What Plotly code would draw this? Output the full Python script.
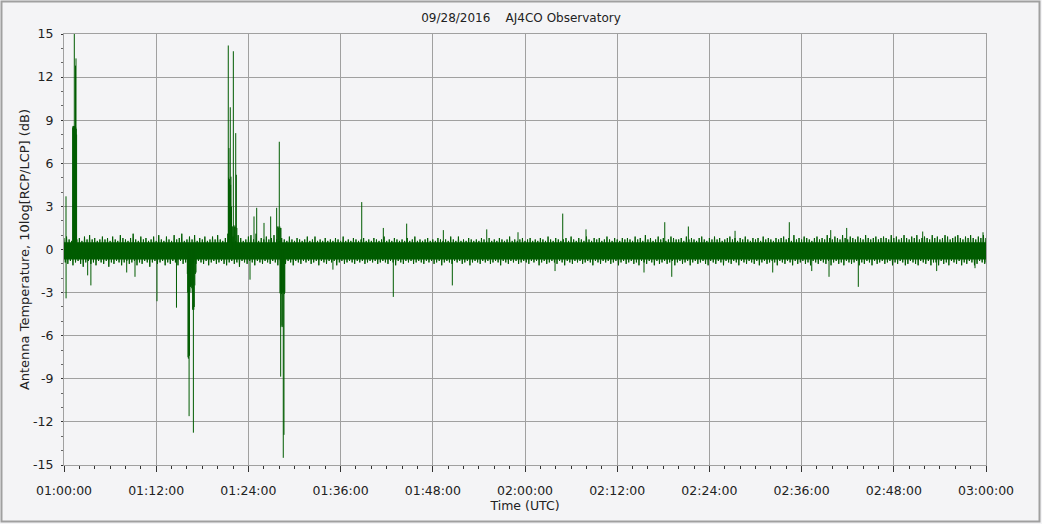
import pandas as pd
import plotly.graph_objects as go

# ---------------- data ----------------
start_time = "2016-09-28 01:00:00"
span_minutes = 120
sample_seconds = 20

# upper and lower edge of the noise band, one value per 20 s (dB)
noise_hi = [
    0.8,0.9,0.7,0.6,1.0,0.7,0.8,0.6,0.9,0.7,1.0,0.7,0.8,0.6,0.7,0.9,0.7,0.8,0.6,0.9,
    0.7,0.6,1.0,0.8,0.7,0.6,0.8,1.1,0.7,0.6,0.9,0.7,0.8,0.6,0.7,0.9,0.6,1.0,0.7,0.6,
    0.9,0.7,0.6,1.0,0.7,0.8,1.1,0.6,0.7,0.9,0.7,1.0,0.6,0.8,0.7,0.9,0.6,0.7,0.9,0.7,
    1.0,0.7,0.6,0.8,1.1,0.7,0.9,0.6,1.0,0.8,0.6,0.7,0.9,1.0,0.7,1.1,0.6,0.8,0.7,0.9,
    0.7,0.8,1.0,0.7,0.6,0.8,0.7,0.6,0.9,0.7,0.6,0.8,0.7,0.6,0.7,0.9,0.6,0.7,0.9,0.6,
    0.7,0.6,0.8,0.6,0.7,0.6,0.8,0.7,0.6,0.9,0.6,0.7,0.6,0.8,0.7,0.6,0.7,0.8,0.6,0.7,
    0.6,0.8,0.7,0.6,0.7,0.9,0.6,0.7,0.6,0.8,0.7,0.6,0.7,0.6,0.8,0.6,0.7,0.9,0.6,0.7,
    0.6,0.7,0.8,0.6,0.7,0.6,0.8,0.7,0.6,0.7,0.6,0.9,0.7,0.6,0.9,0.6,0.7,0.6,0.8,0.7,
    0.6,0.7,0.6,0.8,0.7,0.6,0.8,0.6,0.7,0.6,0.8,0.7,0.6,0.7,0.9,0.6,0.7,0.6,0.7,0.8,
    0.6,0.7,0.8,0.6,0.7,0.6,0.8,0.7,0.6,0.9,0.7,0.6,0.8,0.7,0.6,0.7,0.8,0.6,0.9,0.7,
    0.6,0.8,0.7,0.6,0.9,0.7,0.6,0.8,0.7,0.8,0.6,0.7,0.9,0.7,0.6,0.8,0.7,0.6,0.8,0.7,
    0.8,0.7,0.6,0.9,0.7,0.8,0.6,1.0,0.7,0.8,0.6,0.7,0.9,0.7,0.8,0.6,0.7,0.9,0.8,0.7,
    0.7,0.8,0.6,0.9,0.7,0.8,0.7,0.6,0.8,0.9,0.7,0.6,0.8,0.7,0.9,0.7,0.8,0.6,0.7,0.8,
    0.9,0.7,0.8,0.6,0.8,0.7,0.9,0.7,0.6,0.8,0.7,0.8,0.6,0.9,0.7,0.8,0.7,0.6,0.8,0.7,
    0.8,0.9,0.7,0.8,0.6,1.0,0.7,0.8,0.7,0.9,0.8,0.7,0.6,0.8,0.9,0.7,0.8,0.7,1.0,0.8,
    0.7,0.9,0.8,0.7,1.0,0.8,0.7,0.9,0.8,0.7,0.9,0.8,0.7,1.0,0.8,0.7,0.8,0.9,0.7,0.8,
    0.9,0.8,0.7,1.0,0.8,0.9,0.7,0.8,1.0,0.8,0.7,0.9,0.8,1.0,0.7,0.8,0.9,0.8,0.7,1.0,
    0.8,0.9,0.7,0.8,1.0,0.9,0.7,0.8,0.9,1.0,0.8,0.7,0.9,0.8,1.0,0.8,0.7,0.9,0.8,1.0,
    0.8,
]
noise_lo = [
    -0.9,-1.0,-0.8,-1.1,-0.9,-0.8,-1.0,-1.2,-0.9,-0.8,-1.0,-0.9,-1.1,-0.8,-0.9,-1.0,-0.8,-1.2,-0.9,-1.0,
    -0.8,-0.9,-1.1,-0.9,-0.8,-1.0,-0.9,-0.8,-1.1,-0.9,-1.0,-0.8,-0.9,-1.2,-0.9,-0.8,-1.0,-0.9,-0.8,-1.1,
    -0.9,-1.0,-0.8,-0.9,-1.1,-0.8,-1.0,-0.9,-0.8,-1.1,-0.9,-1.0,-0.8,-0.9,-1.0,-0.8,-1.1,-0.9,-0.8,-1.0,
    -0.9,-0.8,-1.0,-1.1,-0.9,-0.8,-1.0,-0.9,-1.2,-0.8,-0.9,-1.0,-0.8,-0.9,-1.1,-0.8,-0.9,-1.0,-0.8,-0.9,
    -1.0,-0.8,-0.9,-1.1,-0.8,-0.9,-1.0,-0.8,-0.9,-1.1,-0.8,-0.9,-1.0,-0.8,-0.9,-0.8,-1.0,-0.9,-0.8,-1.1,
    -0.8,-0.9,-1.0,-0.8,-0.9,-0.8,-1.1,-0.9,-0.8,-1.0,-0.9,-0.8,-0.9,-1.0,-0.8,-0.9,-0.8,-1.0,-0.9,-0.8,
    -0.9,-0.8,-1.0,-0.9,-0.8,-0.9,-1.0,-0.8,-0.9,-1.1,-0.8,-0.9,-1.0,-0.8,-0.9,-0.8,-1.0,-0.9,-0.8,-0.9,
    -1.0,-0.8,-0.9,-0.8,-1.0,-0.9,-0.8,-1.1,-0.9,-0.8,-0.9,-1.0,-0.8,-0.9,-0.8,-1.0,-0.9,-0.8,-1.1,-0.9,
    -0.8,-0.9,-1.0,-0.8,-0.9,-0.8,-1.0,-0.9,-0.8,-0.9,-1.1,-0.8,-0.9,-1.0,-0.8,-0.9,-0.8,-1.0,-0.9,-0.8,
    -0.9,-1.0,-0.8,-0.9,-0.8,-1.1,-0.9,-0.8,-1.0,-0.9,-0.8,-0.9,-1.0,-0.8,-0.9,-1.1,-0.8,-0.9,-1.0,-0.8,
    -0.9,-0.8,-1.0,-0.9,-0.8,-0.9,-1.1,-0.8,-0.9,-1.0,-0.8,-0.9,-0.8,-1.0,-0.9,-0.8,-1.1,-0.9,-0.8,-1.0,
    -0.9,-0.8,-1.0,-0.9,-1.1,-0.8,-0.9,-1.0,-0.8,-0.9,-1.1,-0.8,-1.0,-0.9,-0.8,-1.0,-0.9,-0.8,-1.1,-0.9,
    -0.8,-1.0,-0.9,-0.8,-1.1,-0.9,-0.8,-1.0,-0.9,-0.8,-1.0,-1.1,-0.8,-0.9,-1.0,-0.8,-0.9,-1.1,-0.8,-0.9,
    -1.0,-0.8,-0.9,-1.1,-0.8,-0.9,-1.0,-0.8,-0.9,-1.0,-0.8,-1.1,-0.9,-0.8,-1.0,-0.9,-0.8,-0.9,-1.1,-0.8,
    -0.9,-1.0,-0.8,-0.9,-1.1,-0.8,-1.0,-0.9,-0.8,-1.0,-0.9,-1.1,-0.8,-0.9,-1.0,-0.8,-0.9,-1.0,-0.8,-1.1,
    -0.9,-0.8,-1.0,-0.9,-1.1,-0.8,-0.9,-1.0,-0.9,-0.8,-1.1,-0.9,-1.0,-0.8,-0.9,-1.1,-0.8,-1.0,-0.9,-0.8,
    -1.0,-0.9,-0.8,-1.1,-0.9,-1.0,-0.8,-0.9,-1.1,-1.0,-0.8,-0.9,-1.0,-1.1,-0.8,-0.9,-1.0,-0.8,-1.1,-0.9,
    -0.9,-1.1,-0.8,-1.0,-0.9,-1.1,-0.8,-0.9,-1.0,-0.8,-1.1,-0.9,-1.0,-0.8,-0.9,-1.1,-1.0,-0.8,-0.9,-1.0,
    -0.9,
]
# solid core of the noise band (dB)
core_top = 0.5
core_bottom = -0.7

# individual spikes: minutes after 01:00:00 and peak value (dB)
spike_min = [
    0.26, 0.27,
    1.13, 1.17, 1.21, 1.25, 1.29, 1.34, 1.37, 1.41, 1.45, 1.50, 1.53, 1.56, 1.60, 1.64,
    3.08, 3.50, 8.16, 9.24, 12.10, 14.64,
    16.05, 16.10, 16.14, 16.19, 16.24, 16.28, 16.33, 16.40, 16.46, 16.52, 16.57,
    16.62, 16.68, 16.74, 16.80, 16.84, 16.90, 16.96, 17.03, 17.10, 17.18,
    21.38, 21.43, 21.47, 21.53, 21.59, 21.64, 21.69, 21.73, 21.80, 21.88, 21.96,
    22.04, 22.12, 22.20, 22.28, 22.35, 22.43, 22.50,
    24.21, 24.73, 25.08, 26.03, 26.90, 27.68,
    27.81, 27.88, 27.94, 28.02, 28.09, 28.16, 28.24,
    28.11, 28.16, 28.20, 28.25, 28.31, 28.37, 28.42, 28.47, 28.54, 28.59, 28.63,
    28.68, 28.74,
    35.00, 38.75, 41.56, 42.86, 44.60, 49.37, 50.54, 55.02, 59.09, 63.91, 64.91, 67.94,
    75.49, 78.19, 79.10, 81.26, 87.34, 92.24, 94.40, 97.32, 99.57, 99.79, 101.87,
    103.38, 111.76, 113.58, 118.57, 119.61,
]
spike_db = [
    3.7, -3.4,
    8.5, 8.6, 8.4, 8.6, 8.5, 15.5, 8.6, 8.4, 8.5, 12.8, 8.5, 13.3, 8.4, 8.0,
    -1.8, -2.5, -1.6, -1.9, -3.6, -4.05,
    -1.7, -3.0, -7.5, -7.6, -3.5, -11.6, -7.4, -3.0, -2.6, -2.6, -2.5,
    -2.7, -3.0, -4.2, -4.1, -12.75, -4.2, -4.0, -2.5, -1.7, -1.6,
    14.2, 5.0, 7.06, 4.9, 3.0, 9.9, 4.5, 5.07, 3.0, 1.6, 1.6,
    13.8, 1.7, 1.6, 1.6, 8.1, 5.2, 1.5,
    -2.1, 2.3, 2.9, 1.85, 2.3, 2.9,
    1.6, 1.6, 1.5, 7.5, 1.6, 1.5, 1.5,
    -3.05, -3.0, -8.85, -5.4, -3.1, -5.3, -3.0, -5.4, -14.5, -3.0, -12.9,
    -3.1, -3.0,
    -1.4, 3.3, 1.5, -3.3, 1.8, 1.35, -2.5, 1.4, 1.2, -1.5, 2.5, 1.4,
    -1.6, 1.9, -1.9, 1.6, 1.3, -1.6, 1.9, -1.5, -1.9, 1.35, 1.5,
    -2.6, 1.25, -1.5, -1.3, 1.2,
]

y_tick_values = [-15, -12, -9, -6, -3, 0, 3, 6, 9, 12, 15]
y_tick_labels = ["-15", "-12", "-9", "-6", "-3", "0", "3", "6", "9", "12", "15"]

title_text = "09/28/2016\u00a0\u00a0\u00a0\u00a0AJ4CO Observatory"
x_title = "Time (UTC)"
y_title = "Antenna Temperature, 10log[RCP/LCP] (dB)"

# ---------------- build traces ----------------
t0 = pd.Timestamp(start_time)
t_end = t0 + pd.Timedelta(minutes=span_minutes)
n = min(len(noise_hi), len(noise_lo))
step = pd.Timedelta(seconds=sample_seconds)
half = step / 2

zx, zy = [], []
for i in range(n):
    t = t0 + i * step
    zx.append(t)
    zy.append(noise_hi[i])
    zx.append(min(t + half, t_end))
    zy.append(noise_lo[i])

sx, sy = [], []
for m, v in zip(spike_min, spike_db):
    t = t0 + pd.Timedelta(minutes=m)
    sx += [t, t, None]
    sy += [0, v, None]

GREEN = "#005c00"
fig = go.Figure()
fig.add_trace(go.Scatter(x=[t0, t_end], y=[core_bottom, core_bottom], mode="lines",
                         line=dict(width=0, color=GREEN), hoverinfo="skip", showlegend=False))
fig.add_trace(go.Scatter(x=[t0, t_end], y=[core_top, core_top], mode="lines", fill="tonexty",
                         fillcolor=GREEN, line=dict(width=0, color=GREEN),
                         hoverinfo="skip", showlegend=False))
fig.add_trace(go.Scatter(x=zx, y=zy, mode="lines", line=dict(width=1, color=GREEN),
                         showlegend=False))
fig.add_trace(go.Scatter(x=sx, y=sy, mode="lines", line=dict(width=1, color=GREEN),
                         connectgaps=False, showlegend=False))

BG = "#f4f4f6"
GRID = "#a0a0a0"
FONT = "DejaVu Sans"
fig.update_layout(
    width=1042, height=524,
    margin=dict(l=64, r=56, t=34, b=59, autoexpand=False),
    paper_bgcolor=BG, plot_bgcolor=BG,
    font=dict(family=FONT, size=12, color="#222222"),
    title=dict(text=title_text, x=0.5, xanchor="center", y=1 - 18 / 524, yanchor="middle",
               font=dict(family=FONT, size=12, color="#222222")),
    showlegend=False,
)
fig.update_xaxes(
    type="date", range=[t0, t_end], tick0=t0, dtick=12 * 60 * 1000,
    tickformat="%H:%M:%S", showgrid=True, gridcolor=GRID, gridwidth=1,
    showline=True, linecolor=GRID, mirror=True, zeroline=False, automargin=False,
    ticks="outside", ticklen=6, tickcolor="#333333", tickwidth=1,
    tickfont=dict(size=12.5, color="#222222"), ticklabelstandoff=8,
    minor=dict(dtick=2 * 60 * 1000, ticks="outside", ticklen=3, tickcolor="#333333",
               showgrid=False),
    title=dict(text=x_title, standoff=4, font=dict(size=12.5, color="#222222")),
)
fig.update_yaxes(
    range=[-15, 15], tickmode="array", tickvals=y_tick_values, ticktext=y_tick_labels,
    showgrid=True, gridcolor=GRID, gridwidth=1,
    showline=True, linecolor=GRID, mirror=True, zeroline=False, automargin=False,
    ticks="outside", ticklen=2, tickcolor="#333333",
    tickfont=dict(size=12.5, color="#222222"), ticklabelstandoff=5,
    minor=dict(tickmode="linear", tick0=0, dtick=1, ticks="outside", ticklen=2,
               tickcolor="#666666", showgrid=False),
    title=dict(text=y_title, standoff=0, font=dict(size=13, color="#222222")),
)
# outer frame of the picture
pw, ph = 1042 - 64 - 56, 524 - 34 - 59
fig.add_shape(type="rect", xref="paper", yref="paper",
              x0=(1.5 - 64) / pw, x1=(1039.5 - 64) / pw,
              y0=(465 - 521.5) / ph, y1=(465 - 1.5) / ph,
              line=dict(color="#a0a0a0", width=2), layer="below")

fig.write_html("out.html", config={"displayModeBar": False},
               post_script="document.body.style.margin='0';")
